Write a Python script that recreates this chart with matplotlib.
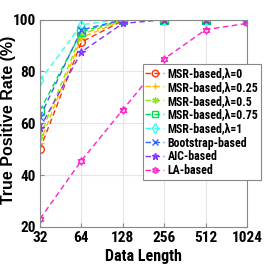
import matplotlib

matplotlib.use("Agg")
import matplotlib.pyplot as plt

lengths = [32, 64, 128, 256, 512, 1024]
labels = ["MSR-based,\u03bb=0", "MSR-based,\u03bb=0.25", "MSR-based,\u03bb=0.5",
          "MSR-based,\u03bb=0.75", "MSR-based,\u03bb=1", "Bootstrap-based",
          "AIC-based", "LA-based"]

msr_0 = [50.0, 91.3, 99.6, 100, 100, 100]
msr_025 = [52.5, 93.0, 99.7, 100, 100, 100]
msr_05 = [55.0, 94.3, 99.8, 100, 100, 100]
msr_075 = [64.9, 95.3, 99.9, 100, 100, 100]
msr_1 = [76.5, 98.0, 100, 100, 100, 100]
bootstrap = [62.5, 96.0, 99.9, 100, 100, 100]
aic = [58.2, 87.5, 98.5, 99.9, 100, 100]
la = [23.1, 45.6, 65.2, 84.8, 96.1, 98.5]

series = [msr_0, msr_025, msr_05, msr_075, msr_1, bootstrap, aic, la]
colors = ["#ff3300", "#ffbb00", "#88ee00", "#00dd55", "#33ffee", "#3366ff", "#8833ff", "#ff22cc"]
markers = ["o", "+", (6, 2, 0), "s", "d", "x", "*", (6, 1, 0)]

narrow = ["Roboto Condensed", "DejaVu Sans"]
plt.rcParams["font.family"] = narrow
plt.rcParams["font.weight"] = "bold"

fig = plt.figure(figsize=(2.73, 2.73), dpi=100)
ax = fig.add_axes([0.1465, 0.1685, 0.7585, 0.76])

for vals, lab, c, m in zip(series, labels, colors, markers):
    ax.plot(lengths, vals, linestyle="--", dashes=(4, 2.5), color=c, marker=m,
            markersize=5.5, markerfacecolor="none", markeredgewidth=1.0,
            linewidth=1.0, label=lab)

ax.set_xscale("log", base=2)
ax.set_xlim(32, 1024)
ax.set_ylim(20, 100)
ax.set_xticks(lengths)
ax.set_xticklabels([str(v) for v in lengths])
ax.set_yticks([20, 40, 60, 80, 100])
ax.minorticks_off()
ax.grid(True, color="#e6e6e6", linewidth=0.8)
ax.set_axisbelow(True)
for s in ax.spines.values():
    s.set_color("#888888")
ax.tick_params(direction="in", length=3, color="#888888", labelsize=11,
               top=True, right=True, pad=3)
for t in ax.get_xticklabels() + ax.get_yticklabels():
    t.set_fontweight("bold")

ax.set_xlabel("Data Length", fontsize=11.5, fontweight="bold", labelpad=3)
ax.set_ylabel("True Positive Rate (%)", fontsize=11.5, fontweight="bold",
              family=["Liberation Sans", "DejaVu Sans"])
ax.yaxis.set_label_coords(-0.118, 0.518)

leg = ax.legend(loc="upper left", bbox_to_anchor=(0.496, 0.784), borderaxespad=0,
                prop={"weight": "bold", "size": 8.6, "family": narrow},
                handlelength=1.6, handletextpad=0.3, labelspacing=0.08,
                borderpad=0.2, fancybox=False, framealpha=1, edgecolor="#888888",
                markerscale=0.85)
leg.get_frame().set_linewidth(0.8)

fig.savefig("out.png", dpi=100)
